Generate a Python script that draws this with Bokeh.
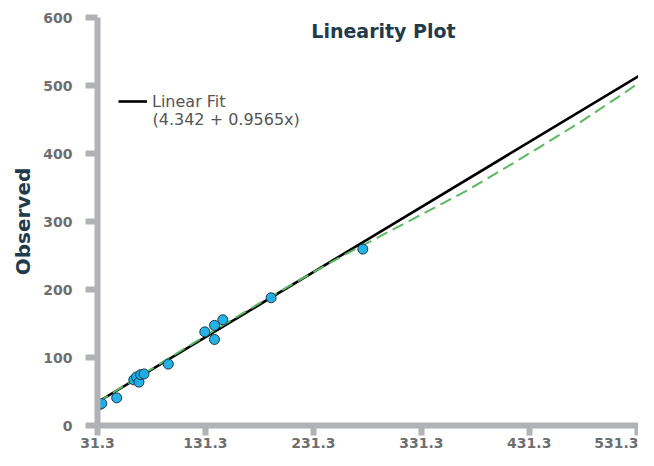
from bokeh.plotting import figure
from bokeh.models import Range1d, FixedTicker, Legend, LegendItem, Label
from bokeh.embed import file_html
from bokeh.resources import INLINE

# ---- data ----
x_obs = [33.4, 35.3, 49.1, 64.9, 67.4, 69.7, 71.3, 74.4, 96.9, 130.7, 139.7, 139.7, 147.4, 192.1, 277.1]
y_obs = [30.9, 32.3, 40.6, 67.1, 71.4, 63.8, 74.8, 75.8, 90.3, 137.7, 126.5, 147.2, 155.5, 187.8, 259.4]

fit_x = [31.3, 546.0]
fit_y = [34.3, 526.6]

curve_x = [31.3, 80, 130, 180, 230, 260, 290, 330, 373, 420, 478, 520, 546]
curve_y = [34.3, 81.9, 130.7, 178.5, 224.3, 251.0, 275.7, 309.0, 345.1, 389.1, 445.5, 489.7, 518.6]

x_ticks = [31.3, 131.3, 231.3, 331.3, 431.3, 531.3]
x_tick_labels = ["31.3", "131.3", "231.3", "331.3", "431.3", "531.3"]
y_ticks = [0, 100, 200, 300, 400, 500, 600]

title_text = "Linearity Plot"
y_title = "Observed"
legend_label = "Linear Fit"
legend_formula = "(4.342 + 0.9565x)"

FONT = "DejaVu Sans"
AXIS_COL = "#b1b2b5"
TICK_TXT = "#6d6e70"
NAVY = "#213a4c"

p = figure(width=638, height=450, output_backend="svg", toolbar_location=None,
           x_range=Range1d(31.3, 532.5), y_range=Range1d(0, 600),
           min_border_left=97, min_border_top=17, min_border_right=0, min_border_bottom=25)
p.outline_line_color = None
p.xgrid.grid_line_color = None
p.ygrid.grid_line_color = None
p.background_fill_color = "white"
p.border_fill_color = "white"

for ax in (p.xaxis[0], p.yaxis[0]):
    ax.axis_line_color = AXIS_COL
    ax.axis_line_width = 6
    ax.major_tick_line_color = AXIS_COL
    ax.major_tick_line_width = 6
    ax.major_tick_in = 0
    ax.minor_tick_line_color = None
    ax.major_label_text_font = FONT
    ax.major_label_text_font_style = "bold"
    ax.major_label_text_font_size = "14px"
    ax.major_label_text_color = TICK_TXT

p.xaxis.ticker = FixedTicker(ticks=x_ticks)
p.xaxis.major_label_overrides = {t: l for t, l in zip(x_ticks, x_tick_labels)}
p.xaxis.major_tick_out = 10
p.xaxis.major_label_standoff = 2

p.yaxis.ticker = FixedTicker(ticks=y_ticks)
p.yaxis.major_tick_out = 12
p.yaxis.major_label_standoff = 13
p.yaxis.axis_label = y_title
p.yaxis.axis_label_text_font = FONT
p.yaxis.axis_label_text_font_style = "bold"
p.yaxis.axis_label_text_font_size = "20px"
p.yaxis.axis_label_text_color = NAVY
p.yaxis.axis_label_standoff = 5

fit_r = p.line(fit_x, fit_y, line_color="black", line_width=2.6)
p.line(curve_x, curve_y, line_color="#5cb860", line_width=2, line_dash="12 6")
p.scatter(x_obs, y_obs, size=10, fill_color="#1aaee5", line_color="#1b3a4a", line_width=1, fill_alpha=0.95)

legend = Legend(items=[LegendItem(label=legend_label, renderers=[fit_r])],
                location=(21, 314), padding=0, margin=0, spacing=0,
                border_line_color=None, background_fill_alpha=0,
                glyph_width=29, glyph_height=20, label_height=20, label_standoff=5,
                label_text_font=FONT, label_text_font_size="16px", label_text_color="#555555")
p.add_layout(legend)

p.add_layout(Label(x=55, y=306, x_units="screen", y_units="screen", text=legend_formula,
                   text_font=FONT, text_font_size="16px", text_color="#555555",
                   text_baseline="middle", text_align="left"))

p.add_layout(Label(x=286, y=395, x_units="screen", y_units="screen", text=title_text,
                   text_font=FONT, text_font_size="19px", text_font_style="bold", text_color=NAVY,
                   text_baseline="middle", text_align="center"))

open("out.html", "w").write(file_html(p, INLINE))
